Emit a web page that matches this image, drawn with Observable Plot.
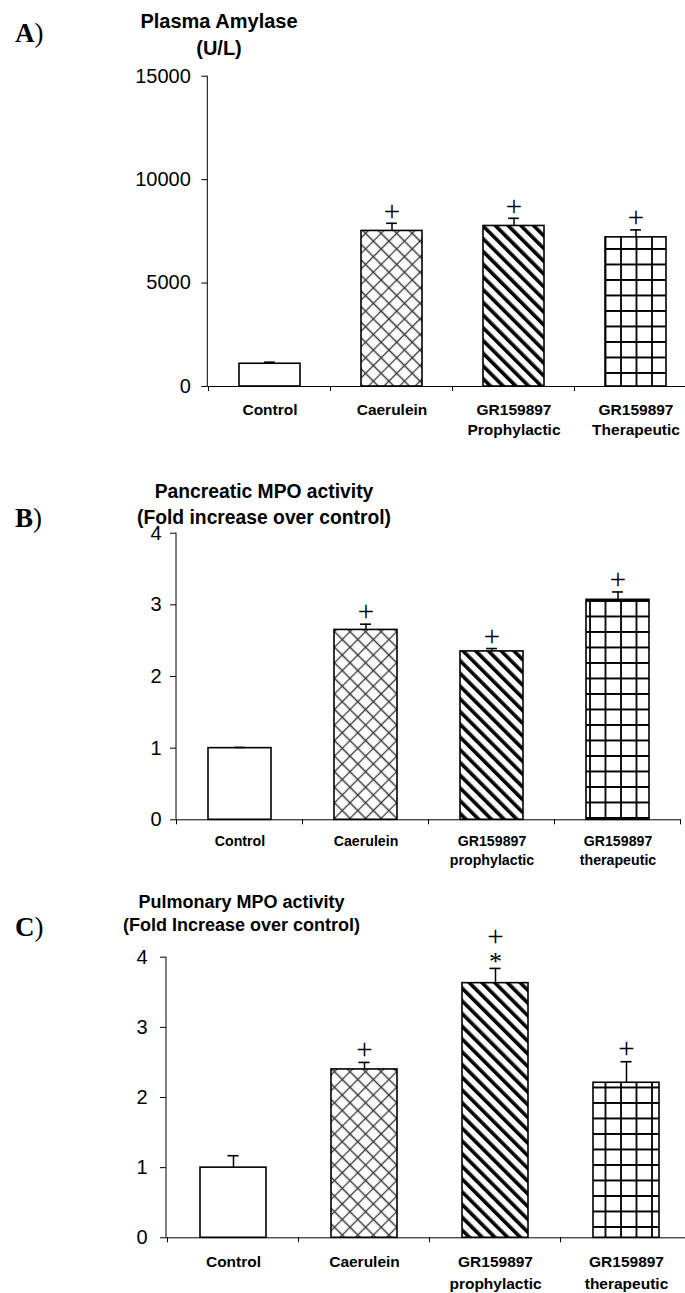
<!DOCTYPE html>
<html>
<head>
<meta charset="utf-8">
<script src="https://cdn.jsdelivr.net/npm/d3@7"></script>
<script src="https://cdn.jsdelivr.net/npm/@observablehq/plot@0.6"></script>
<style>
  html, body { margin: 0; padding: 0; background: #fff; overflow: hidden; }
  #page { position: relative; width: 685px; height: 1293px; overflow: hidden;
          font-family: "Liberation Sans", Arial, sans-serif; color: #000; }
  .panel { position: absolute; left: 0; display: block; }
  .title { position: absolute; width: 400px; text-align: center; font-weight: bold; white-space: nowrap; }
  .tag { position: absolute; font-family: "Liberation Serif", "Times New Roman", serif; font-size: 27px; line-height: 30px; }
  .tag b { font-weight: bold; }
</style>
</head>
<body>
<div id="page"></div>
<script>
// ---- Data ----------------------------------------------------------------
// A) Plasma amylase (U/L)
const amylaseGroups = ["Control", "Caerulein", "GR159897\nProphylactic", "GR159897\nTherapeutic"];
const amylaseMean = [1100, 7520, 7760, 7210];
const amylaseSem = [75, 370, 370, 360];
const amylaseSig = ["", "+", "+", "+"];
const amylaseTicks = [0, 5000, 10000, 15000];

// B) Pancreatic MPO activity (fold increase over control)
const pancGroups = ["Control", "Caerulein", "GR159897\nprophylactic", "GR159897\ntherapeutic"];
const pancMean = [1.00, 2.65, 2.35, 3.07];
const pancSem = [0.01, 0.08, 0.04, 0.11];
const pancSig = ["", "+", "+", "+"];
const foldTicks = [0, 1, 2, 3, 4];

// C) Pulmonary MPO activity (fold increase over control)
const pulmGroups = ["Control", "Caerulein", "GR159897\nprophylactic", "GR159897\ntherapeutic"];
const pulmMean = [1.00, 2.40, 3.63, 2.21];
const pulmSem = [0.17, 0.10, 0.21, 0.30];
const pulmSig = ["", "+", "+*", "+"];

// ---- Drawing helpers -------------------------------------------------------
const W = 685;
const SANS = "Liberation Sans, Arial, sans-serif";
const SERIF = "Liberation Serif, Times New Roman, serif";

// hatch patterns used as bar fills
function addPatterns(svg, key) {
  const defs = d3.select(svg).insert("defs", ":first-child");
  const xh = defs.append("pattern").attr("id", `xh-${key}`).attr("patternUnits", "userSpaceOnUse")
    .attr("width", 11).attr("height", 11).attr("patternTransform", "rotate(45)");
  xh.append("rect").attr("width", 11).attr("height", 11).attr("fill", "white");
  xh.append("path").attr("d", "M0,5.5H11M5.5,0V11").attr("stroke", "#3a3a3a").attr("stroke-width", 1.3);
  const st = defs.append("pattern").attr("id", `st-${key}`).attr("patternUnits", "userSpaceOnUse")
    .attr("width", 9).attr("height", 9).attr("patternTransform", "rotate(-45)");
  st.append("rect").attr("width", 9).attr("height", 9).attr("fill", "white");
  st.append("rect").attr("width", 3.6).attr("height", 9).attr("fill", "black");
  const gr = defs.append("pattern").attr("id", `gr-${key}`).attr("patternUnits", "userSpaceOnUse")
    .attr("width", 15.5).attr("height", 15.5);
  gr.append("rect").attr("width", 15.5).attr("height", 15.5).attr("fill", "white");
  gr.append("path").attr("d", "M0,1H15.5M1,0V15.5").attr("stroke", "black").attr("stroke-width", 1.8);
}

// vertical axis line plus group separator ticks under the baseline
function axisLines(tickLen) {
  return (index, scales) => {
    const x = scales.x, y = scales.y;
    const g = d3.create("svg:g").attr("stroke", "black").attr("stroke-width", 1).attr("fill", "none");
    const [r0] = x.range();
    const [d0, d1] = y.domain();
    g.append("line").attr("x1", r0).attr("x2", r0).attr("y1", y(d0)).attr("y2", y(d1));
    const dom = x.domain();
    const step = x.step(), bw = x.bandwidth();
    const xs = dom.map(d => x(d) + bw / 2 - step / 2);
    xs.push(x(dom[dom.length - 1]) + bw / 2 + step / 2);
    for (const px of xs) {
      g.append("line").attr("x1", px).attr("x2", px).attr("y1", y(0)).attr("y2", y(0) + tickLen);
    }
    return g.node();
  };
}

function drawPanel(o) {
  const {key, groups, mean, sem, sig, ticks, yMax, top, height, ml, mt, mr, mb,
         yPad, labelSize, labelPad, lineHeight, plusGap} = o;
  const idx = d3.range(groups.length);
  const step = (W - ml - mr) / groups.length;
  const bw = step * 0.5;
  const capW = 11;
  const capInset = (bw - capW) / 2;
  const fills = ["white", `url(#xh-${key})`, `url(#st-${key})`, `url(#gr-${key})`];
  const plusOnly = idx.filter(i => sig[i] === "+");
  const plusStar = idx.filter(i => sig[i] === "+*");
  const gx = i => groups[i];
  const errTop = i => mean[i] + sem[i];

  const svg = Plot.plot({
    width: W, height,
    marginLeft: ml, marginTop: mt, marginRight: mr, marginBottom: mb,
    style: {fontFamily: SANS, background: "white", color: "black", overflow: "hidden"},
    x: {domain: groups, paddingInner: 0.5, paddingOuter: 0.25, label: null},
    y: {domain: [0, yMax], label: null},
    color: {type: "identity"},
    marks: [
      Plot.barY(idx, {x: gx, y: i => mean[i], fill: i => fills[i], stroke: "black", strokeWidth: 1.6}),
      Plot.ruleX(idx, {x: gx, y1: i => mean[i], y2: errTop, stroke: "black", strokeWidth: 1.5}),
      Plot.tickY(idx, {x: gx, y: errTop, insetLeft: capInset, insetRight: capInset, stroke: "black", strokeWidth: 1.6}),
      Plot.text(plusOnly, {x: gx, y: errTop, text: () => "+", dy: -plusGap, fontSize: 29, fontFamily: SERIF, fill: "#000"}),
      Plot.text(plusStar, {x: gx, y: errTop, text: () => "*", dy: -7, fontSize: 26, fontFamily: SERIF, fill: "#000"}),
      Plot.text(plusStar, {x: gx, y: errTop, text: () => "+", dy: -32, fontSize: 29, fontFamily: SERIF, fill: "#000"}),
      Plot.ruleY([0], {stroke: "black", strokeWidth: 1}),
      axisLines(5),
      Plot.axisY({ticks, tickSize: 6, tickPadding: yPad, fontSize: 20, tickFormat: "d", label: null, stroke: "black"}),
      Plot.axisX({tickSize: 0, tickPadding: labelPad, fontSize: labelSize, fontWeight: "bold", lineHeight, label: null})
    ]
  });
  addPatterns(svg, key);
  svg.classList.add("panel");
  svg.style.top = top + "px";
  return svg;
}

function addTitle(page, lines, cx, cy1, spacing, size) {
  const d = document.createElement("div");
  d.className = "title";
  d.style.left = (cx - 200) + "px";
  d.style.top = (cy1 - spacing / 2) + "px";
  d.style.fontSize = size + "px";
  d.style.lineHeight = spacing + "px";
  d.innerHTML = lines.join("<br>");
  page.appendChild(d);
}

function addTag(page, letter, x, cy) {
  const d = document.createElement("div");
  d.className = "tag";
  d.style.left = x + "px";
  d.style.top = (cy - 15) + "px";
  d.innerHTML = `<b>${letter}</b>)`;
  page.appendChild(d);
}

// ---- Layout ----------------------------------------------------------------
const page = document.getElementById("page");

page.appendChild(drawPanel({
  key: "a", groups: amylaseGroups, mean: amylaseMean, sem: amylaseSem, sig: amylaseSig,
  ticks: amylaseTicks, yMax: 15000,
  top: 0, height: 445, ml: 207.3, mt: 75.7, mr: -12.3, mb: 59,
  yPad: 11, labelSize: 15.5, labelPad: 14, lineHeight: 1.3, plusGap: 12
}));
page.appendChild(drawPanel({
  key: "b", groups: pancGroups, mean: pancMean, sem: pancSem, sig: pancSig,
  ticks: foldTicks, yMax: 4,
  top: 445, height: 440, ml: 176, mt: 87.7, mr: 4.2, mb: 65.7,
  yPad: 9, labelSize: 14.2, labelPad: 13.5, lineHeight: 1.3, plusGap: 12
}));
page.appendChild(drawPanel({
  key: "c", groups: pulmGroups, mean: pulmMean, sem: pulmSem, sig: pulmSig,
  ticks: foldTicks, yMax: 4,
  top: 885, height: 408, ml: 166, mt: 71.7, mr: -8.2, mb: 55.7,
  yPad: 13, labelSize: 15.5, labelPad: 14.5, lineHeight: 1.38, plusGap: 13
}));

addTitle(page, ["Plasma Amylase", "(U/L)"], 219, 21.5, 26.5, 20);
addTitle(page, ["Pancreatic MPO activity", "(Fold increase over control)"], 264, 491.7, 26, 19.3);
addTitle(page, ["Pulmonary MPO activity", "(Fold Increase over control)"], 241.5, 902.5, 23.2, 18);

addTag(page, "A", 15, 32.5);
addTag(page, "B", 15, 518);
addTag(page, "C", 15, 926.7);
</script>
</body>
</html>
